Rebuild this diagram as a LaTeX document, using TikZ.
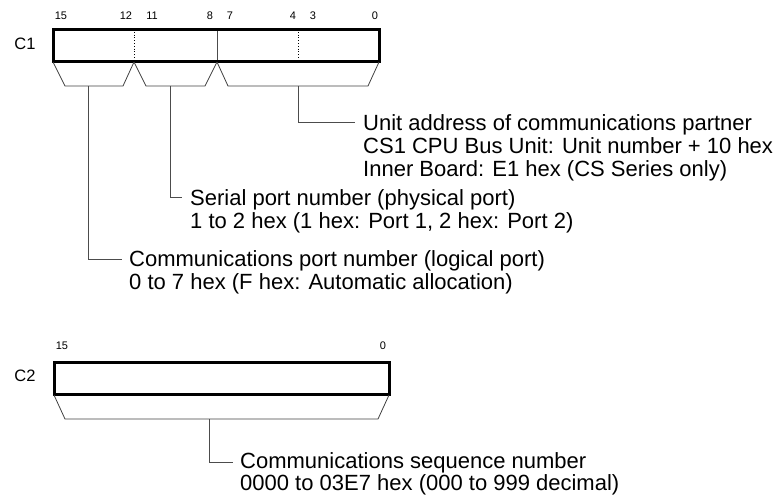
\documentclass[tikz,border=0pt]{standalone}
\usepackage{fontspec}
\setmainfont{Liberation Sans}
\begin{document}
\begin{tikzpicture}[x=1pt,y=-1pt,
  bitnum/.style={font=\fontsize{11}{13}\selectfont, inner sep=0pt, anchor=base},
  wordlbl/.style={font=\fontsize{16.5}{18}\selectfont, inner sep=0pt, anchor=center},
  desc/.style={font=\fontsize{22}{24}\selectfont, inner sep=0pt, anchor=base west},
  wordbox/.style={line width=3pt},
  divdot/.style={line width=0.8pt, dotted},
  divsolid/.style={line width=0.8pt, black!70},
  brace/.style={line width=0.8pt, black!75},
  conn/.style={line width=0.9pt, black!70}]
\useasboundingbox (0,0) rectangle (779,496);

% ---- C1 ----
\node[bitnum] (n15) at (61,19) {15};
\node[bitnum] (n12) at (126,19) {12};
\node[bitnum] (n11) at (152,19) {11};
\node[bitnum] (n8) at (210,19) {8};
\node[bitnum] (n7) at (230,19) {7};
\node[bitnum] (n4) at (293,19) {4};
\node[bitnum] (n3) at (313,19) {3};
\node[bitnum] (n0) at (375,19) {0};
\node[wordlbl] (c1) at (25,44) {C1};

\draw[divdot] (134,29) -- (134,61);
\draw[divsolid] (217,29) -- (217,61);
\draw[divdot] (298,29) -- (298,61);
\draw[wordbox] (53,29) rectangle (379,61);

\draw[brace] (53,62) -- (65,86) -- (123,86) -- (134,62);
\draw[brace] (134,62) -- (146,86) -- (205,86) -- (217,62);
\draw[brace] (217,62) -- (228,86) -- (368,86) -- (379,62);

\coordinate (b1) at (88,86);
\coordinate (b2) at (170,86);
\coordinate (b3) at (298,86);

\node[desc] (ua1) at (363,130) {Unit address of communications partner};
\node[desc] (ua2) at (363,153) {CS1 CPU Bus Unit: Unit number + 10 hex};
\node[desc] (ua3) at (363,176) {Inner Board: E1 hex (CS Series only)};

\node[desc] (sp1) at (190,205) {Serial port number (physical port)};
\node[desc] (sp2) at (190,228) {1 to 2 hex (1 hex: Port 1, 2 hex: Port 2)};

\node[desc] (cp1) at (129,266) {Communications port number (logical port)};
\node[desc] (cp2) at (129,289) {0 to 7 hex (F hex: Automatic allocation)};

\coordinate (e3) at (355,122);
\coordinate (e2) at (182,197);
\coordinate (e1) at (122,259);
\draw[conn] (b3) |- (e3);
\draw[conn] (b2) |- (e2);
\draw[conn] (b1) |- (e1);

% ---- C2 ----
\node[bitnum] (m15) at (62,349) {15};
\node[bitnum] (m0) at (383,349) {0};
\node[wordlbl] (c2) at (25,376) {C2};
\draw[wordbox] (54,362) rectangle (389,394);
\draw[brace] (54,395) -- (65,419) -- (378,419) -- (389,395);
\coordinate (b4) at (209,419);

\node[desc] (cs1) at (240,468) {Communications sequence number};
\node[desc] (cs2) at (240,490) {0000 to 03E7 hex (000 to 999 decimal)};
\coordinate (e4) at (233,462);
\draw[conn] (b4) |- (e4);
\end{tikzpicture}
\end{document}
